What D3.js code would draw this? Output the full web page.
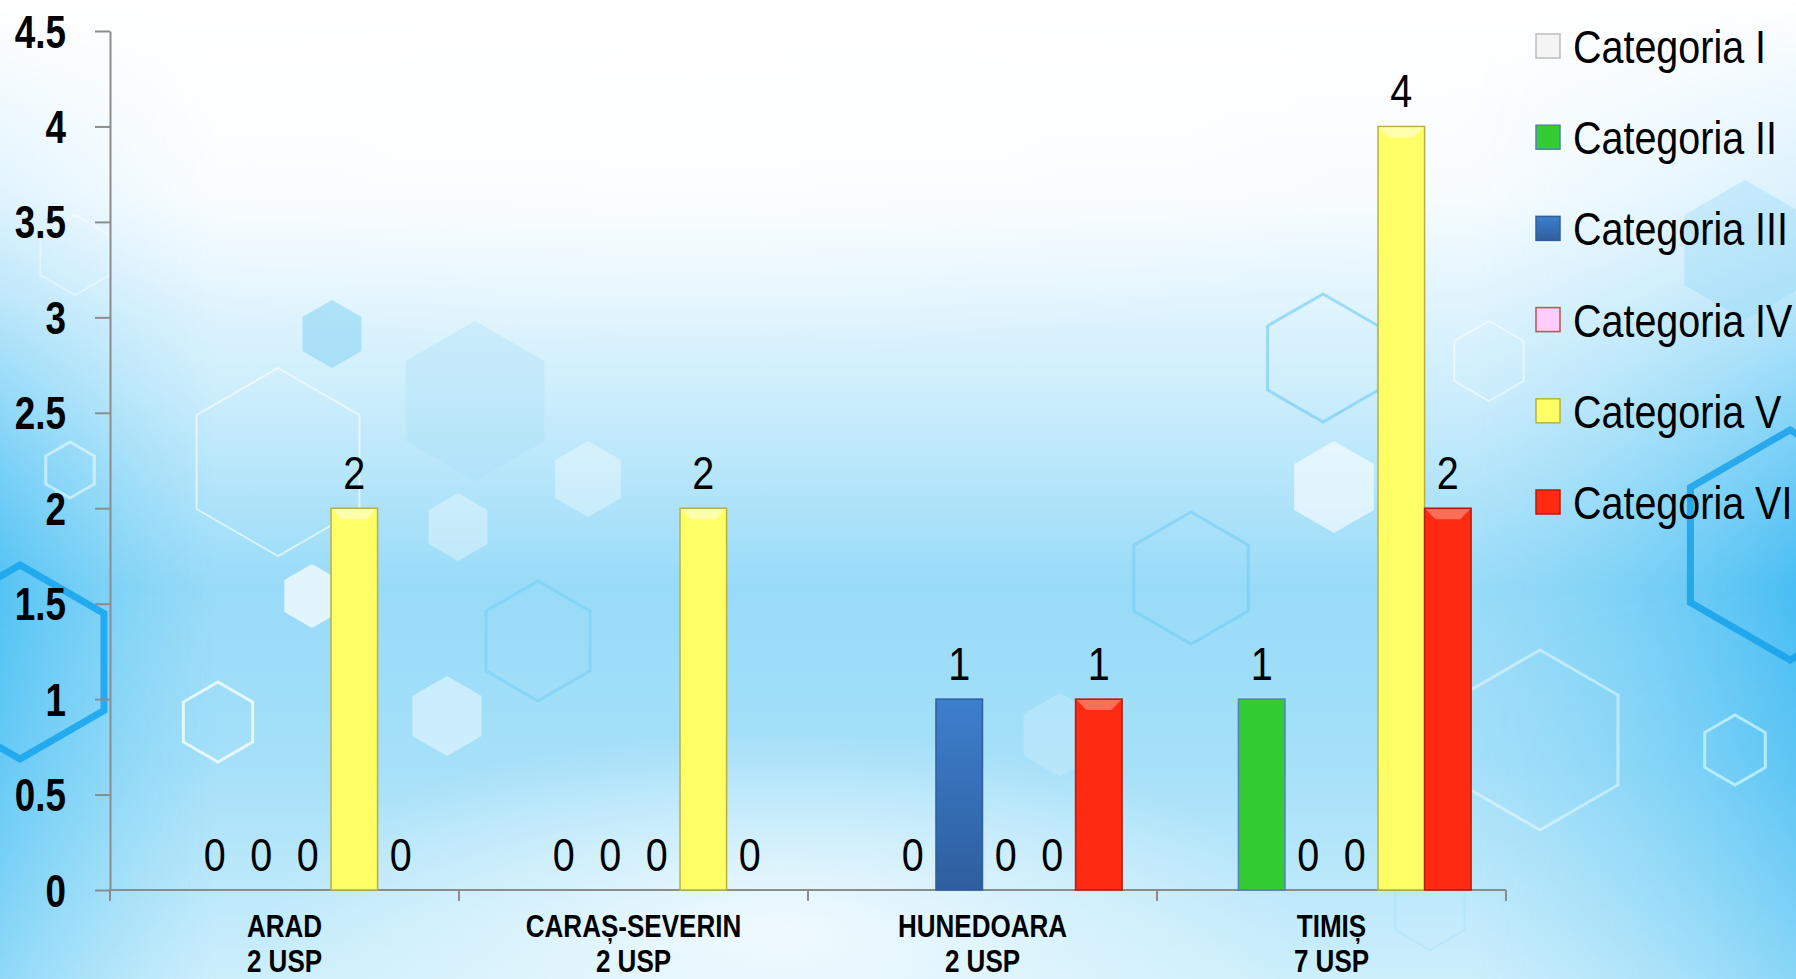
<!DOCTYPE html>
<html>
<head>
<meta charset="utf-8">
<script src="https://cdn.jsdelivr.net/npm/d3@7"></script>
<style>
  body { margin: 0; overflow: hidden; }
  svg { display: block; }
  text { font-family: "Liberation Sans", Arial, sans-serif; }
</style>
</head>
<body>
<div id="chart"></div>
<script>
// data
var counties = ["ARAD", "CARAȘ-SEVERIN", "HUNEDOARA", "TIMIȘ"];
var countyUnits = ["2 USP", "2 USP", "2 USP", "7 USP"];
var seriesNames = ["Categoria I", "Categoria II", "Categoria III", "Categoria IV", "Categoria V", "Categoria VI"];
var catI   = [null, null, null, null];
var catII  = [0, 0, 0, 1];
var catIII = [0, 0, 1, 0];
var catIV  = [0, 0, 0, 0];
var catV   = [2, 2, 0, 4];
var catVI  = [0, 0, 1, 2];
var yTicks = [0, 0.5, 1, 1.5, 2, 2.5, 3, 3.5, 4, 4.5];

var seriesValues = [catI, catII, catIII, catIV, catV, catVI];

var width = 1796, height = 979;
var margin = {top: 31, left: 110, right: 290, bottom: 89};

var svg = d3.select("#chart")
  .append("svg")
    .attr("width", width)
    .attr("height", height);

var defs = svg.append("defs");

// background gradients
var bg = defs.append("linearGradient").attr("id", "bg").attr("x1", 0).attr("y1", 0).attr("x2", 0).attr("y2", 1);
[[0, "#ffffff"], [0.2, "#f7fcff"], [0.4, "#cdeefc"], [0.6, "#98dbf8"], [0.78, "#a5e0f9"], [1, "#cdeffc"]]
  .forEach(function(s) { bg.append("stop").attr("offset", s[0]).attr("stop-color", s[1]); });

var side = defs.append("linearGradient").attr("id", "side").attr("x1", 0).attr("y1", 0).attr("x2", 1).attr("y2", 0);
[[0, "#2fb6f2", 0.65], [0.12, "#5cc8f5", 0], [0.82, "#5cc8f5", 0], [1, "#1eaef0", 0.65]]
  .forEach(function(s) { side.append("stop").attr("offset", s[0]).attr("stop-color", s[1]).attr("stop-opacity", s[2]); });

var sideMask = defs.append("linearGradient").attr("id", "sideMask").attr("x1", 0).attr("y1", 0).attr("x2", 0).attr("y2", 1);
[[0, "#fff", 0], [0.3, "#fff", 0.3], [0.6, "#fff", 1], [1, "#fff", 0.6]]
  .forEach(function(s) { sideMask.append("stop").attr("offset", s[0]).attr("stop-color", s[1]).attr("stop-opacity", s[2]); });
defs.append("mask").attr("id", "sm").append("rect").attr("width", width).attr("height", height).attr("fill", "url(#sideMask)");

var glow = defs.append("radialGradient").attr("id", "glow");
glow.append("stop").attr("offset", 0).attr("stop-color", "#ffffff").attr("stop-opacity", 0.75);
glow.append("stop").attr("offset", 1).attr("stop-color", "#ffffff").attr("stop-opacity", 0);

svg.append("rect").attr("width", width).attr("height", height).attr("fill", "url(#bg)");
svg.append("rect").attr("width", width).attr("height", height).attr("fill", "url(#side)").attr("mask", "url(#sm)");
svg.append("ellipse").attr("cx", 780).attr("cy", 930).attr("rx", 520).attr("ry", 200).attr("fill", "url(#glow)");
svg.append("ellipse").attr("cx", 700).attr("cy", 80).attr("rx", 900).attr("ry", 280).attr("fill", "url(#glow)");

// decorative hexagons [cx, cy, r, stroke, strokeWidth, fill, opacity]
var hexes = [
  [20, 662, 97, "#1aa6ee", 7, "none", 0.9],
  [1790, 545, 115, "#129fe9", 7, "none", 0.8],
  [278, 462, 94, "#ffffff", 2, "none", 0.6],
  [218, 722, 40, "#ffffff", 3, "none", 0.75],
  [1735, 750, 35, "#c8f4ff", 3, "none", 0.8],
  [1323, 358, 64, "#6cc9f2", 3, "none", 0.6],
  [1489, 361, 40, "#ffffff", 2, "none", 0.5],
  [1191, 578, 66, "#6cc9f2", 3, "none", 0.5],
  [538, 641, 60, "#70cdf3", 3, "none", 0.5],
  [1334, 487, 46, "none", 0, "#ffffff", 0.6],
  [447, 716, 40, "none", 0, "#ffffff", 0.45],
  [312, 596, 32, "none", 0, "#ffffff", 0.7],
  [458, 527, 34, "none", 0, "#ffffff", 0.35],
  [588, 479, 38, "none", 0, "#ffffff", 0.35],
  [332, 334, 34, "none", 0, "#7cd0f3", 0.5],
  [475, 401, 80, "none", 0, "#a9e0f6", 0.35],
  [75, 255, 40, "#ffffff", 2, "none", 0.4],
  [1745, 250, 70, "none", 0, "#8fd8f6", 0.35],
  [1540, 740, 90, "#ffffff", 3, "none", 0.45],
  [1430, 910, 40, "#a9e4fa", 2, "none", 0.5],
  [1060, 735, 42, "none", 0, "#c6ecfb", 0.5],
  [70, 470, 28, "#ffffff", 3, "none", 0.5]
];
var hexPath = function(cx, cy, r) {
  var pts = d3.range(6).map(function(i) {
    var a = Math.PI / 3 * i - Math.PI / 2;
    return [cx + r * Math.cos(a), cy + r * Math.sin(a)];
  });
  return "M" + pts.join("L") + "Z";
};
svg.append("g").selectAll("path")
  .data(hexes)
  .enter()
  .append("path")
    .attr("d", function(d) { return hexPath(d[0], d[1], d[2]); })
    .attr("stroke", function(d) { return d[3]; })
    .attr("stroke-width", function(d) { return d[4]; })
    .attr("fill", function(d) { return d[5]; })
    .attr("opacity", function(d) { return d[6]; });

// series styles
var fills = ["#f4f4f4", "#33cc33", "#3a76c4", "#ffccff", "#ffff66", "#ff2a12"];
var strokes = ["#bdbdbd", "#4f81bd", "#2f5f9f", "#c0504d", "#b8b040", "#b81c0c"];
var bevel = ["#ffffff", null, null, null, "#ffffb8", "#ff7a66"];

var blueGrad = defs.append("linearGradient").attr("id", "blueGrad").attr("x1", 0).attr("y1", 0).attr("x2", 0).attr("y2", 1);
blueGrad.append("stop").attr("offset", 0).attr("stop-color", "#3d7fcd");
blueGrad.append("stop").attr("offset", 1).attr("stop-color", "#2e5e9e");
var fillFor = function(i) { return i === 2 ? "url(#blueGrad)" : fills[i]; };

// narrow text helper: position with translate, squeeze horizontally (Arial Narrow look)
var place = function(x, y, k) { return "translate(" + x + "," + y + ") scale(" + (k || 0.82) + ",1)"; };

// scales
var x0 = d3.scaleBand()
  .domain(counties)
  .range([margin.left, width - margin.right])
  .paddingInner(0).paddingOuter(0);

var x1 = d3.scaleBand()
  .domain(d3.range(seriesNames.length))
  .range([0, x0.bandwidth()])
  .paddingInner(0).paddingOuter(0.75);

var y = d3.scaleLinear()
  .domain([0, 4.5])
  .range([height - margin.bottom, margin.top]);

// axes
var yAxis = svg.append("g")
  .attr("transform", "translate(" + margin.left + ",0)")
  .call(d3.axisLeft(y).tickValues(yTicks).tickSize(15).tickSizeOuter(0).tickFormat(""));
yAxis.selectAll("line, path").attr("stroke", "#8c8c8c").attr("stroke-width", 2);

svg.append("g").selectAll("text")
  .data(yTicks)
  .enter()
  .append("text")
    .attr("transform", function(d) { return place(66, y(d), 0.8); })
    .attr("text-anchor", "end")
    .attr("dy", "0.36em")
    .style("font-size", "46px")
    .style("font-weight", "bold")
    .attr("fill", "#000")
    .text(function(d) { return d; });

var xAxis = svg.append("g")
  .attr("transform", "translate(0," + y(0) + ")");
xAxis.append("line")
  .attr("x1", x0.range()[0]).attr("x2", x0.range()[1])
  .attr("stroke", "#8c8c8c").attr("stroke-width", 2);
xAxis.selectAll(".tk")
  .data(counties.concat(["end"]))
  .enter()
  .append("line")
    .attr("x1", function(d, i) { return margin.left + i * x0.step(); })
    .attr("x2", function(d, i) { return margin.left + i * x0.step(); })
    .attr("y1", 0).attr("y2", 11)
    .attr("stroke", "#8c8c8c").attr("stroke-width", 2);

var xl = svg.append("g").selectAll("text")
  .data(counties)
  .enter()
  .append("text")
    .attr("text-anchor", "middle")
    .attr("transform", function(d) { return place(x0(d) + x0.bandwidth() / 2, 937, 0.84); })
    .style("font-size", "31px")
    .style("font-weight", "bold")
    .attr("fill", "#000");
xl.append("tspan").attr("x", 0).text(function(d) { return d; });
xl.append("tspan")
  .attr("x", 0)
  .attr("dy", 35)
  .text(function(d, i) { return countyUnits[i]; });

// bars
var rows = counties.map(function(c, ci) {
  return seriesValues.map(function(s, si) { return {county: c, si: si, v: s[ci]}; });
});

var groups = svg.append("g").selectAll("g")
  .data(rows)
  .enter()
  .append("g")
    .attr("transform", function(d, i) { return "translate(" + x0(counties[i]) + ",0)"; });

var cells = groups.selectAll("g")
  .data(function(d) { return d; })
  .enter()
  .append("g");

cells.filter(function(d) { return d.v > 0; })
  .append("rect")
    .attr("x", function(d) { return x1(d.si); })
    .attr("width", x1.bandwidth())
    .attr("y", function(d) { return y(d.v); })
    .attr("height", function(d) { return y(0) - y(d.v); })
    .attr("fill", function(d) { return fillFor(d.si); })
    .attr("stroke", function(d) { return strokes[d.si]; })
    .attr("stroke-width", 1.5);

// bevel highlight at top of bars
cells.filter(function(d) { return d.v > 0 && bevel[d.si]; })
  .append("path")
    .attr("d", function(d) {
      var xa = x1(d.si) + 1, xb = x1(d.si) + x1.bandwidth() - 1, yt = y(d.v) + 1, b = 10;
      return "M" + xa + "," + yt + "L" + xb + "," + yt + "L" + (xb - b) + "," + (yt + b) + "L" + (xa + b) + "," + (yt + b) + "Z";
    })
    .attr("fill", function(d) { return bevel[d.si]; })
    .attr("opacity", 0.85);

cells.filter(function(d) { return d.v != null; })
  .append("text")
    .attr("text-anchor", "middle")
    .attr("transform", function(d) { return place(x1(d.si) + x1.bandwidth() / 2, y(d.v) - 19, 0.86); })
    .style("font-size", "46px")
    .attr("fill", "#000")
    .text(function(d) { return d.v; });

// legend
var legend = svg.append("g").selectAll("g")
  .data(seriesNames)
  .enter()
  .append("g")
    .attr("transform", function(d, i) { return "translate(1536," + (46 + i * 91.2) + ")"; });

legend.append("rect")
  .attr("x", 0).attr("y", -12)
  .attr("width", 24).attr("height", 24)
  .attr("fill", function(d, i) { return fillFor(i); })
  .attr("stroke", function(d, i) { return strokes[i]; })
  .attr("stroke-width", 1.5);

legend.append("text")
  .attr("transform", place(37, 0, 0.84))
  .attr("dy", "0.36em")
  .style("font-size", "47px")
  .attr("fill", "#000")
  .text(function(d) { return d; });
</script>
</body>
</html>
